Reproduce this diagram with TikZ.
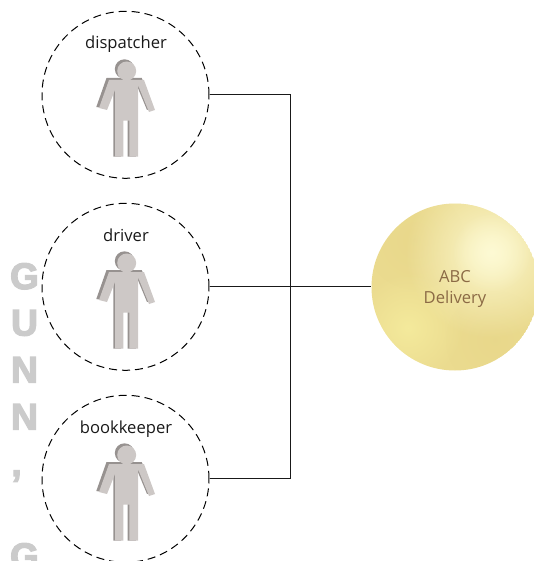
\documentclass[tikz,border=0pt]{standalone}
\usepackage{fontspec}
\setmainfont{Open Sans}
\newfontfamily\sidefont[FakeBold=3.5]{Liberation Sans Bold}
\usetikzlibrary{fadings}
\definecolor{figlight}{HTML}{CDC8C6}
\definecolor{figdark}{HTML}{979290}
\definecolor{ballbase}{HTML}{EBDB8F}
\definecolor{balldim}{HTML}{E6D486}
\definecolor{ballglow}{HTML}{F4EA9C}
\definecolor{ballhigh}{HTML}{FEFBD6}
\definecolor{balltext}{HTML}{8B6A45}
\definecolor{sidegray}{HTML}{CBCBCB}
\tikzfading[name=softblob, inner color=transparent!0, outer color=transparent!100]
\tikzset{
  role/.style={circle,draw=black,dash pattern=on 8pt off 5pt,line width=1pt,minimum size=167pt,inner sep=0pt},
  rolelabel/.style={font=\fontsize{16.6}{18}\selectfont,text=black!90,inner sep=0pt,anchor=base},
  link/.style={draw=black!90,line width=1.1pt},
  side/.style={font=\fontsize{37}{40}\selectfont\sidefont,text=sidegray,inner sep=0pt,anchor=base},
  balltxt/.style={font=\fontsize{16.6}{21}\selectfont,text=balltext,align=center,inner sep=0pt},
  person/.pic={
    \fill[figdark] (-1.5,-25) circle (9.7);
    \fill[figdark] (-19.5,-16) -- (15.8,-16) -- (27,14) -- (21,16) -- (9.8,-11) -- (9.8,62.7) -- (1.7,62.7) -- (1.7,24.9) -- (-4.9,24.9) -- (-4.9,62.7) -- (-12.7,62.7) -- (-12.7,-6) -- (-21,14.5) -- (-29.7,13) -- cycle;
    \fill[figlight] (0.7,-23) circle (9.5);
    \fill[figlight] (-17,-14) -- (18,-14) -- (29,16) -- (23,18) -- (12,-9) -- (12,62.7) -- (3.3,62.7) -- (3.3,26.7) -- (-2.7,26.7) -- (-2.7,62.7) -- (-11,62.7) -- (-11,-4) -- (-19,16) -- (-27,14) -- cycle;
  }
}
\begin{document}
\begin{tikzpicture}[x=1pt,y=-1pt]
\useasboundingbox (0,0) rectangle (534,561);
\begin{scope}
\clip (0,0) rectangle (534,561);
\node[side] (s1) at (24.5,289) {G};
\node[side] (s2) at (24.5,335.5) {U};
\node[side] (s3) at (24.5,382.5) {N};
\node[side] (s4) at (24.5,429.5) {N};
\node[side] (s5) at (16.5,476) {,};
\node[side] (s6) at (24.5,569) {G};
\end{scope}
\node[role] (disp) at (125.5,94.8) {};
\node[role] (driv) at (125.5,286.8) {};
\node[role] (book) at (125.5,478.8) {};
\node[rolelabel] (ldisp) at (126,49) {dispatcher};
\node[rolelabel] (ldriv) at (126,241) {driver};
\node[rolelabel] (lbook) at (126,433) {bookkeeper};
\pic at (126,94) {person};
\pic at (126,286) {person};
\pic at (126,478) {person};
\node[circle,minimum size=167pt,inner sep=0pt] (abc) at (455,286.8) {};
\begin{scope}
\clip (455,287) circle (83.5);
\fill[ballbase] (455,287) circle (83.5);
\fill[balldim,path fading=softblob,opacity=.45] (415,240) circle (50);
\fill[balldim,path fading=softblob,opacity=.45] (495,340) circle (50);
\fill[ballglow,path fading=softblob] (408,328) circle (55);
\fill[ballhigh,path fading=softblob,opacity=.85] (490,253) circle (85);
\fill[ballhigh,path fading=softblob,opacity=.8] (492,252) circle (40);
\end{scope}
\node[balltxt] (ltxt) at (455,288.5) {ABC\\Delivery};
\coordinate (busend) at (290.8,478.8);
\draw[link] (disp.east) -| (busend);
\draw[link] (book.east) -- (busend);
\draw[link] (driv.east) -- (abc.west);
\end{tikzpicture}
\end{document}
